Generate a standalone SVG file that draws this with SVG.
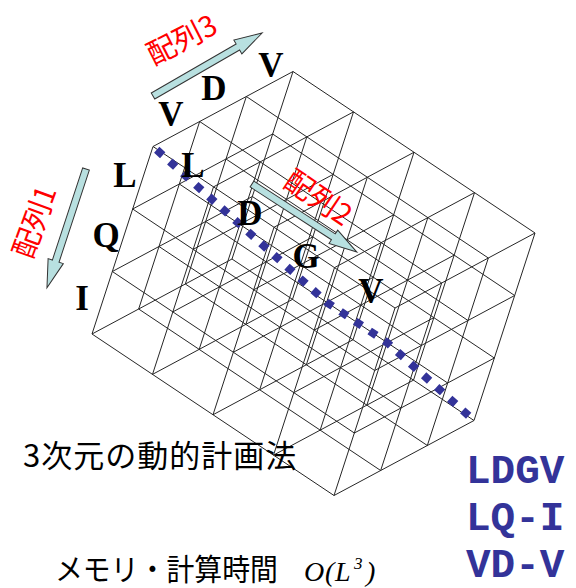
<svg xmlns="http://www.w3.org/2000/svg" width="576" height="588" viewBox="0 0 576 588">
<style>
.grid{fill:none;stroke:#262626;stroke-width:1}
.dp{fill:none;stroke:#333399;stroke-width:8;stroke-dasharray:8 9.5;stroke-dashoffset:-5}
.arr{fill:#b8e0e0;stroke:#333;stroke-width:1;stroke-linejoin:miter}
.res{font-family:"Liberation Serif","Times New Roman",serif;font-weight:bold;font-size:35px;fill:#000;text-anchor:middle}
.red{font-family:"Noto Sans CJK JP","Noto Sans",sans-serif;font-size:29px;fill:#ff0000;text-anchor:middle}
.jp{font-family:"Noto Sans CJK JP","Noto Sans",sans-serif;fill:#000}
.seq{font-family:"Liberation Mono","Courier New",monospace;font-weight:bold;font-size:41px;fill:#333399}
.math{font-family:"Liberation Serif","Times New Roman",serif;font-style:italic;fill:#000}
</style>
<rect width="576" height="588" fill="#fff"/>
<g id="cube">
<path class="grid" d="M153,146.5L92,334M199.67,121.5L138.67,309M246.33,96.5L185.33,284M293,71.5L232,259M213.5,186.88L152.5,374.38M260.17,161.88L199.17,349.38M306.83,136.88L245.83,324.38M353.5,111.88L292.5,299.38M274,227.25L213,414.75M320.67,202.25L259.67,389.75M367.33,177.25L306.33,364.75M414,152.25L353,339.75M334.5,267.63L273.5,455.13M381.17,242.63L320.17,430.13M427.83,217.63L366.83,405.13M474.5,192.63L413.5,380.13M395,308L334,495.5M441.67,283L380.67,470.5M488.33,258L427.33,445.5M535,233L474,420.5"/>
<path class="grid" d="M153,146.5L395,308M199.67,121.5L441.67,283M246.33,96.5L488.33,258M293,71.5L535,233M132.67,209L374.67,370.5M179.33,184L421.33,345.5M226,159L468,320.5M272.67,134L514.67,295.5M112.33,271.5L354.33,433M159,246.5L401,408M205.67,221.5L447.67,383M252.33,196.5L494.33,358M92,334L334,495.5M138.67,309L380.67,470.5M185.33,284L427.33,445.5M232,259L474,420.5"/>
<path class="grid" d="M153,146.5L293,71.5M213.5,186.88L353.5,111.88M274,227.25L414,152.25M334.5,267.63L474.5,192.63M395,308L535,233M132.67,209L272.67,134M193.17,249.38L333.17,174.38M253.67,289.75L393.67,214.75M314.17,330.13L454.17,255.13M374.67,370.5L514.67,295.5M112.33,271.5L252.33,196.5M172.83,311.88L312.83,236.88M233.33,352.25L373.33,277.25M293.83,392.63L433.83,317.63M354.33,433L494.33,358M92,334L232,259M152.5,374.38L292.5,299.38M213,414.75L353,339.75M273.5,455.13L413.5,380.13M334,495.5L474,420.5"/>
</g>
<g id="alignment-path">
<path class="dp" d="M153,146.5L239.83,224.38L326.67,302.25L387.17,342.63L474,420.5"/>
</g>
<g id="arrows">
<polygon id="arrow3" class="arr" transform="translate(153,96) rotate(-30)" points="0,-3.5 98,-3.5 98,-8 126,0 98,8 98,3.5 0,3.5"/>
<polygon id="arrow1" class="arr" transform="translate(86,169) rotate(108.2)" points="0,-3.5 97,-3.5 97,-8 125,0 97,8 97,3.5 0,3.5"/>
<polygon id="arrow2" class="arr" transform="translate(252,184) rotate(33)" points="0,-3.5 97,-3.5 97,-8 125,0 97,8 97,3.5 0,3.5"/>
</g>
<g id="array-labels">
<text class="red" transform="translate(182,40) rotate(-27)" y="10">配列3</text>
<text class="red" transform="translate(35,222) rotate(-70)" y="10">配列1</text>
<text class="red" transform="translate(318,198) rotate(34)" y="10">配列2</text>
</g>
<g id="residues">
<text class="res" x="171" y="126">V</text>
<text class="res" x="214" y="100">D</text>
<text class="res" x="271" y="77">V</text>
<text class="res" x="125" y="187">L</text>
<text class="res" x="193" y="177">L</text>
<text class="res" x="250" y="225">D</text>
<text class="res" x="306" y="268">G</text>
<text class="res" x="371" y="303">V</text>
<text class="res" x="106" y="247">Q</text>
<text class="res" x="82" y="310">I</text>
</g>
<g id="captions">
<text class="jp" x="23" y="467" font-size="31" letter-spacing="1">3次元の動的計画法</text>
<text class="jp" x="55" y="580" font-size="30" textLength="223" lengthAdjust="spacingAndGlyphs">メモリ・計算時間</text>
<text class="math" font-size="28" x="304" y="581">O</text>
<text class="math" font-size="28" x="325" y="581">(</text>
<text class="math" font-size="28" x="335" y="581">L</text>
<text class="math" font-size="17" x="354" y="569">3</text>
<text class="math" font-size="28" x="366" y="581">)</text>
</g>
<g id="sequences">
<text class="seq" x="466" y="483">LDGV</text>
<text class="seq" x="466" y="530">LQ-I</text>
<text class="seq" x="466" y="577">VD-V</text>
</g>
</svg>
